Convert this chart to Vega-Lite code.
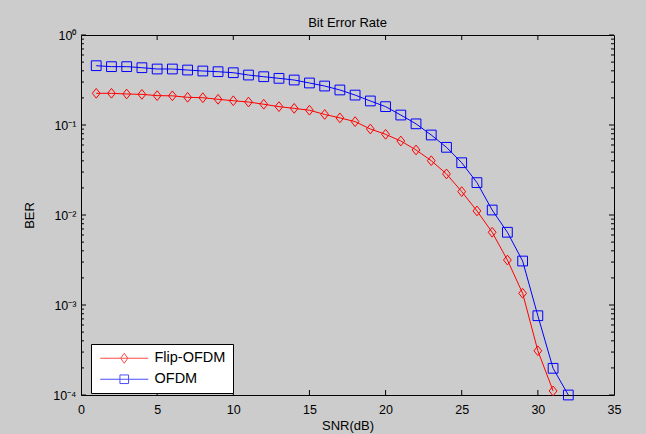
{
  "$schema": "https://vega.github.io/schema/vega-lite/v6.json",
  "width": 533,
  "height": 360,
  "autosize": {"type": "none"},
  "padding": {"left": 81, "top": 35, "right": 32, "bottom": 39},
  "background": "#cccccc",
  "config": {
    "font": "Liberation Sans",
    "view": {"stroke": "#000000", "strokeWidth": 1, "fill": "#ffffff"},
    "axis": {"grid": false, "domain": false, "ticks": false, "labelColor": "#000000", "titleColor": "#000000", "labelFont": "Liberation Sans", "titleFont": "Liberation Sans", "labelFontSize": 12.5, "titleFontSize": 13, "titleFontWeight": "normal"},
    "legend": {"orient": "none", "legendX": 10, "legendY": 309, "fillColor": "#ffffff", "strokeColor": "#000000", "padding": 7, "rowPadding": 5, "labelFontSize": 14.5, "labelFont": "Liberation Sans", "labelColor": "#000000", "symbolSize": 100, "labelOffset": 42, "symbolStrokeWidth": 1, "symbolFillColor": "transparent", "cornerRadius": 0}
  },
  "title": {"text": "Bit Error Rate", "fontSize": 13, "fontWeight": "normal", "font": "Liberation Sans", "color": "#000000", "offset": -1},
  "datasets": {
    "ber": [
      {"snr": 1, "ber": 0.225, "series": "Flip-OFDM"},
      {"snr": 2, "ber": 0.225, "series": "Flip-OFDM"},
      {"snr": 3, "ber": 0.221, "series": "Flip-OFDM"},
      {"snr": 4, "ber": 0.219, "series": "Flip-OFDM"},
      {"snr": 5, "ber": 0.212, "series": "Flip-OFDM"},
      {"snr": 6, "ber": 0.211, "series": "Flip-OFDM"},
      {"snr": 7, "ber": 0.203, "series": "Flip-OFDM"},
      {"snr": 8, "ber": 0.201, "series": "Flip-OFDM"},
      {"snr": 9, "ber": 0.193, "series": "Flip-OFDM"},
      {"snr": 10, "ber": 0.186, "series": "Flip-OFDM"},
      {"snr": 11, "ber": 0.180, "series": "Flip-OFDM"},
      {"snr": 12, "ber": 0.170, "series": "Flip-OFDM"},
      {"snr": 13, "ber": 0.160, "series": "Flip-OFDM"},
      {"snr": 14, "ber": 0.153, "series": "Flip-OFDM"},
      {"snr": 15, "ber": 0.146, "series": "Flip-OFDM"},
      {"snr": 16, "ber": 0.131, "series": "Flip-OFDM"},
      {"snr": 17, "ber": 0.120, "series": "Flip-OFDM"},
      {"snr": 18, "ber": 0.109, "series": "Flip-OFDM"},
      {"snr": 19, "ber": 0.0903, "series": "Flip-OFDM"},
      {"snr": 20, "ber": 0.0788, "series": "Flip-OFDM"},
      {"snr": 21, "ber": 0.0664, "series": "Flip-OFDM"},
      {"snr": 22, "ber": 0.0528, "series": "Flip-OFDM"},
      {"snr": 23, "ber": 0.0401, "series": "Flip-OFDM"},
      {"snr": 24, "ber": 0.0286, "series": "Flip-OFDM"},
      {"snr": 25, "ber": 0.0182, "series": "Flip-OFDM"},
      {"snr": 26, "ber": 0.0111, "series": "Flip-OFDM"},
      {"snr": 27, "ber": 0.00643, "series": "Flip-OFDM"},
      {"snr": 28, "ber": 0.00316, "series": "Flip-OFDM"},
      {"snr": 29, "ber": 0.00135, "series": "Flip-OFDM"},
      {"snr": 30, "ber": 0.00031, "series": "Flip-OFDM"},
      {"snr": 31, "ber": 0.000111, "series": "Flip-OFDM"},
      {"snr": 1, "ber": 0.456, "series": "OFDM"},
      {"snr": 2, "ber": 0.445, "series": "OFDM"},
      {"snr": 3, "ber": 0.445, "series": "OFDM"},
      {"snr": 4, "ber": 0.433, "series": "OFDM"},
      {"snr": 5, "ber": 0.419, "series": "OFDM"},
      {"snr": 6, "ber": 0.419, "series": "OFDM"},
      {"snr": 7, "ber": 0.408, "series": "OFDM"},
      {"snr": 8, "ber": 0.398, "series": "OFDM"},
      {"snr": 9, "ber": 0.391, "series": "OFDM"},
      {"snr": 10, "ber": 0.381, "series": "OFDM"},
      {"snr": 11, "ber": 0.359, "series": "OFDM"},
      {"snr": 12, "ber": 0.344, "series": "OFDM"},
      {"snr": 13, "ber": 0.330, "series": "OFDM"},
      {"snr": 14, "ber": 0.316, "series": "OFDM"},
      {"snr": 15, "ber": 0.293, "series": "OFDM"},
      {"snr": 16, "ber": 0.271, "series": "OFDM"},
      {"snr": 17, "ber": 0.245, "series": "OFDM"},
      {"snr": 18, "ber": 0.215, "series": "OFDM"},
      {"snr": 19, "ber": 0.185, "series": "OFDM"},
      {"snr": 20, "ber": 0.160, "series": "OFDM"},
      {"snr": 21, "ber": 0.129, "series": "OFDM"},
      {"snr": 22, "ber": 0.103, "series": "OFDM"},
      {"snr": 23, "ber": 0.0774, "series": "OFDM"},
      {"snr": 24, "ber": 0.0565, "series": "OFDM"},
      {"snr": 25, "ber": 0.0381, "series": "OFDM"},
      {"snr": 26, "ber": 0.0229, "series": "OFDM"},
      {"snr": 27, "ber": 0.01136, "series": "OFDM"},
      {"snr": 28, "ber": 0.00643, "series": "OFDM"},
      {"snr": 29, "ber": 0.00308, "series": "OFDM"},
      {"snr": 30, "ber": 0.00076, "series": "OFDM"},
      {"snr": 31, "ber": 0.000198, "series": "OFDM"},
      {"snr": 32, "ber": 0.0001, "series": "OFDM"}
    ],
    "xticks": [{"v": 5}, {"v": 10}, {"v": 15}, {"v": 20}, {"v": 25}, {"v": 30}],
    "yticks": [
      {"v": 0.0001, "kind": "major"}, {"v": 0.0002, "kind": "minor"}, {"v": 0.0003, "kind": "minor"}, {"v": 0.0004, "kind": "minor"}, {"v": 0.0005, "kind": "minor"}, {"v": 0.0006, "kind": "minor"}, {"v": 0.0007, "kind": "minor"}, {"v": 0.0008, "kind": "minor"}, {"v": 0.0009, "kind": "minor"},
      {"v": 0.001, "kind": "major"}, {"v": 0.002, "kind": "minor"}, {"v": 0.003, "kind": "minor"}, {"v": 0.004, "kind": "minor"}, {"v": 0.005, "kind": "minor"}, {"v": 0.006, "kind": "minor"}, {"v": 0.007, "kind": "minor"}, {"v": 0.008, "kind": "minor"}, {"v": 0.009, "kind": "minor"},
      {"v": 0.01, "kind": "major"}, {"v": 0.02, "kind": "minor"}, {"v": 0.03, "kind": "minor"}, {"v": 0.04, "kind": "minor"}, {"v": 0.05, "kind": "minor"}, {"v": 0.06, "kind": "minor"}, {"v": 0.07, "kind": "minor"}, {"v": 0.08, "kind": "minor"}, {"v": 0.09, "kind": "minor"},
      {"v": 0.1, "kind": "major"}, {"v": 0.2, "kind": "minor"}, {"v": 0.3, "kind": "minor"}, {"v": 0.4, "kind": "minor"}, {"v": 0.5, "kind": "minor"}, {"v": 0.6, "kind": "minor"}, {"v": 0.7, "kind": "minor"}, {"v": 0.8, "kind": "minor"}, {"v": 0.9, "kind": "minor"},
      {"v": 1, "kind": "major"}
    ]
  },
  "data": {"name": "ber"},
  "layer": [
    {
      "mark": {"type": "line", "strokeWidth": 1, "clip": false},
      "encoding": {
        "x": {"field": "snr", "type": "quantitative", "scale": {"domain": [0, 35], "nice": false, "zero": false},
          "axis": {"orient": "bottom", "values": [0, 5, 10, 15, 20, 25, 30, 35], "labelPadding": 8, "title": "SNR(dB)", "titlePadding": 4, "labelFlush": false}},
        "y": {"field": "ber", "type": "quantitative", "scale": {"type": "log", "domain": [0.0001, 1], "nice": false},
          "axis": {"orient": "left", "title": "BER", "titlePadding": 16, "labelPadding": 5, "labelOverlap": false, "labelFlush": false,
            "values": [0.0001, 0.001, 0.01, 0.1, 1],
            "labelExpr": "datum.value == 1 ? '10⁰' : datum.value == 0.1 ? '10⁻¹' : datum.value == 0.01 ? '10⁻²' : datum.value == 0.001 ? '10⁻³' : datum.value == 0.0001 ? '10⁻⁴' : ''"}},
        "color": {"field": "series", "type": "nominal", "scale": {"domain": ["Flip-OFDM", "OFDM"], "range": ["#ff0000", "#0000ff"]}, "legend": null}
      }
    },
    {
      "mark": {"type": "point", "filled": false, "strokeWidth": 1, "opacity": 1, "clip": false},
      "encoding": {
        "x": {"field": "snr", "type": "quantitative", "axis": null},
        "y": {"field": "ber", "type": "quantitative", "axis": null},
        "color": {"field": "series", "type": "nominal", "scale": {"domain": ["Flip-OFDM", "OFDM"], "range": ["#ff0000", "#0000ff"]}, "legend": null},
        "shape": {"field": "series", "type": "nominal", "scale": {"domain": ["Flip-OFDM", "OFDM"], "range": ["M0,-1L0.8,0L0,1L-0.8,0Z", "square"]}, "legend": null},
        "size": {"value": 95}
      }
    },
    {
      "data": {"name": "xticks"},
      "mark": {"type": "tick", "orient": "vertical", "thickness": 1, "size": 5, "yOffset": -2.5, "color": "#000000", "opacity": 1},
      "encoding": {
        "x": {"field": "v", "type": "quantitative", "axis": null},
        "y": {"datum": 0.0001, "type": "quantitative", "axis": null}
      }
    },
    {
      "data": {"name": "xticks"},
      "mark": {"type": "tick", "orient": "vertical", "thickness": 1, "size": 5, "yOffset": 2.5, "color": "#000000", "opacity": 1},
      "encoding": {
        "x": {"field": "v", "type": "quantitative", "axis": null},
        "y": {"datum": 1, "type": "quantitative", "axis": null}
      }
    },
    {
      "data": {"name": "yticks"},
      "transform": [{"filter": "datum.kind == 'major'"}],
      "mark": {"type": "tick", "orient": "horizontal", "thickness": 1, "size": 5, "xOffset": 2.5, "color": "#000000", "opacity": 1},
      "encoding": {
        "y": {"field": "v", "type": "quantitative", "axis": null},
        "x": {"datum": 0, "type": "quantitative", "axis": null}
      }
    },
    {
      "data": {"name": "yticks"},
      "transform": [{"filter": "datum.kind == 'minor'"}],
      "mark": {"type": "tick", "orient": "horizontal", "thickness": 1, "size": 3, "xOffset": 1.5, "color": "#000000", "opacity": 1},
      "encoding": {
        "y": {"field": "v", "type": "quantitative", "axis": null},
        "x": {"datum": 0, "type": "quantitative", "axis": null}
      }
    },
    {
      "data": {"name": "yticks"},
      "transform": [{"filter": "datum.kind == 'major'"}],
      "mark": {"type": "tick", "orient": "horizontal", "thickness": 1, "size": 5, "xOffset": -2.5, "color": "#000000", "opacity": 1},
      "encoding": {
        "y": {"field": "v", "type": "quantitative", "axis": null},
        "x": {"datum": 35, "type": "quantitative", "axis": null}
      }
    },
    {
      "data": {"name": "yticks"},
      "transform": [{"filter": "datum.kind == 'minor'"}],
      "mark": {"type": "tick", "orient": "horizontal", "thickness": 1, "size": 3, "xOffset": -1.5, "color": "#000000", "opacity": 1},
      "encoding": {
        "y": {"field": "v", "type": "quantitative", "axis": null},
        "x": {"datum": 35, "type": "quantitative", "axis": null}
      }
    },
    {
      "transform": [{"filter": "datum.snr > 1000"}],
      "mark": {"type": "point", "filled": false, "strokeWidth": 1},
      "encoding": {
        "color": {"field": "series", "type": "nominal", "scale": {"domain": ["Flip-OFDM", "OFDM"], "range": ["#ff0000", "#0000ff"]}, "legend": {"title": null}},
        "shape": {"field": "series", "type": "nominal", "scale": {"domain": ["Flip-OFDM", "OFDM"], "range": ["M-1,0L8.6,0M3.8,-1L4.52,0L3.8,1L3.08,0Z", "M-1,0L8.6,0M2.94,-0.86L4.66,-0.86L4.66,0.86L2.94,0.86Z"]}, "legend": {"title": null}}
      }
    }
  ],
  "resolve": {"axis": {"x": "independent", "y": "independent"}, "scale": {"color": "independent", "shape": "independent"}}
}
